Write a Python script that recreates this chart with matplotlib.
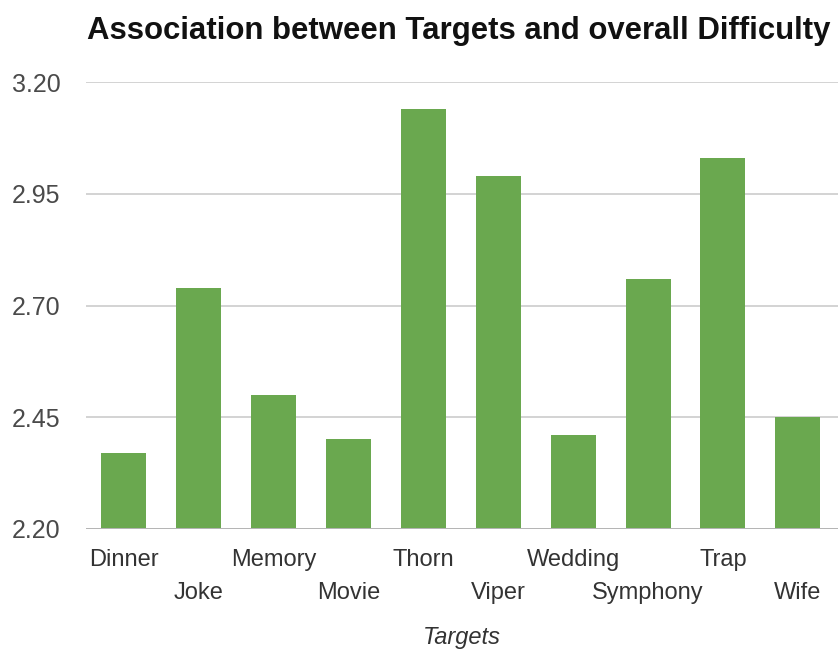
import numpy as np
import matplotlib.pyplot as plt

plt.rcParams['font.family'] = ['Liberation Sans', 'DejaVu Sans']

targets = ['Dinner', 'Joke', 'Memory', 'Movie', 'Thorn',
           'Viper', 'Wedding', 'Symphony', 'Trap', 'Wife']
difficulty = [2.37, 2.74, 2.50, 2.40, 3.14, 2.99, 2.41, 2.76, 3.03, 2.45]
yticks = [2.20, 2.45, 2.70, 2.95, 3.20]

W, H = 838, 652
fig = plt.figure(figsize=(W / 100, H / 100), dpi=100)
ax = fig.add_axes([86 / W, 123.3 / H, 752 / W, 446.4 / H])

x = np.arange(len(targets))
ax.bar(x, difficulty, width=0.6, color='#6aa84f', zorder=2)

ax.set_ylim(2.20, 3.20)
ax.set_xlim(-0.5, 9.535)
ax.set_yticks(yticks)
ax.set_yticklabels(['%.2f' % v for v in yticks])
ax.grid(axis='y', color='#cccccc', linewidth=1.2, zorder=0)
ax.axhline(2.20, color='#b5b5b5', linewidth=1.4, zorder=3)
for s in ax.spines.values():
    s.set_visible(False)

ax.tick_params(axis='y', length=0, pad=18.5, labelsize=18, labelcolor='#4a4a4a')
ax.tick_params(axis='x', length=0, labelsize=17, labelcolor='#333333')

# labels alternate between two rows
ax.set_xticks(x)
ax.set_xticklabels(targets)
for i, tick in enumerate(ax.xaxis.get_major_ticks()):
    tick.set_pad(14.5 if i % 2 == 0 else 38.5)

ax.set_xlabel('Targets', fontsize=17, style='italic', color='#333333')
ax.xaxis.set_label_coords(0.5, -(626 - 528.7) / 446.4)

fig.text(87 / W, 1 - 39 / H, 'Association between Targets and overall Difficulty',
         fontsize=22.4, fontweight='bold', color='#111111', va='baseline', ha='left')

plt.savefig('out.png', dpi=100)
